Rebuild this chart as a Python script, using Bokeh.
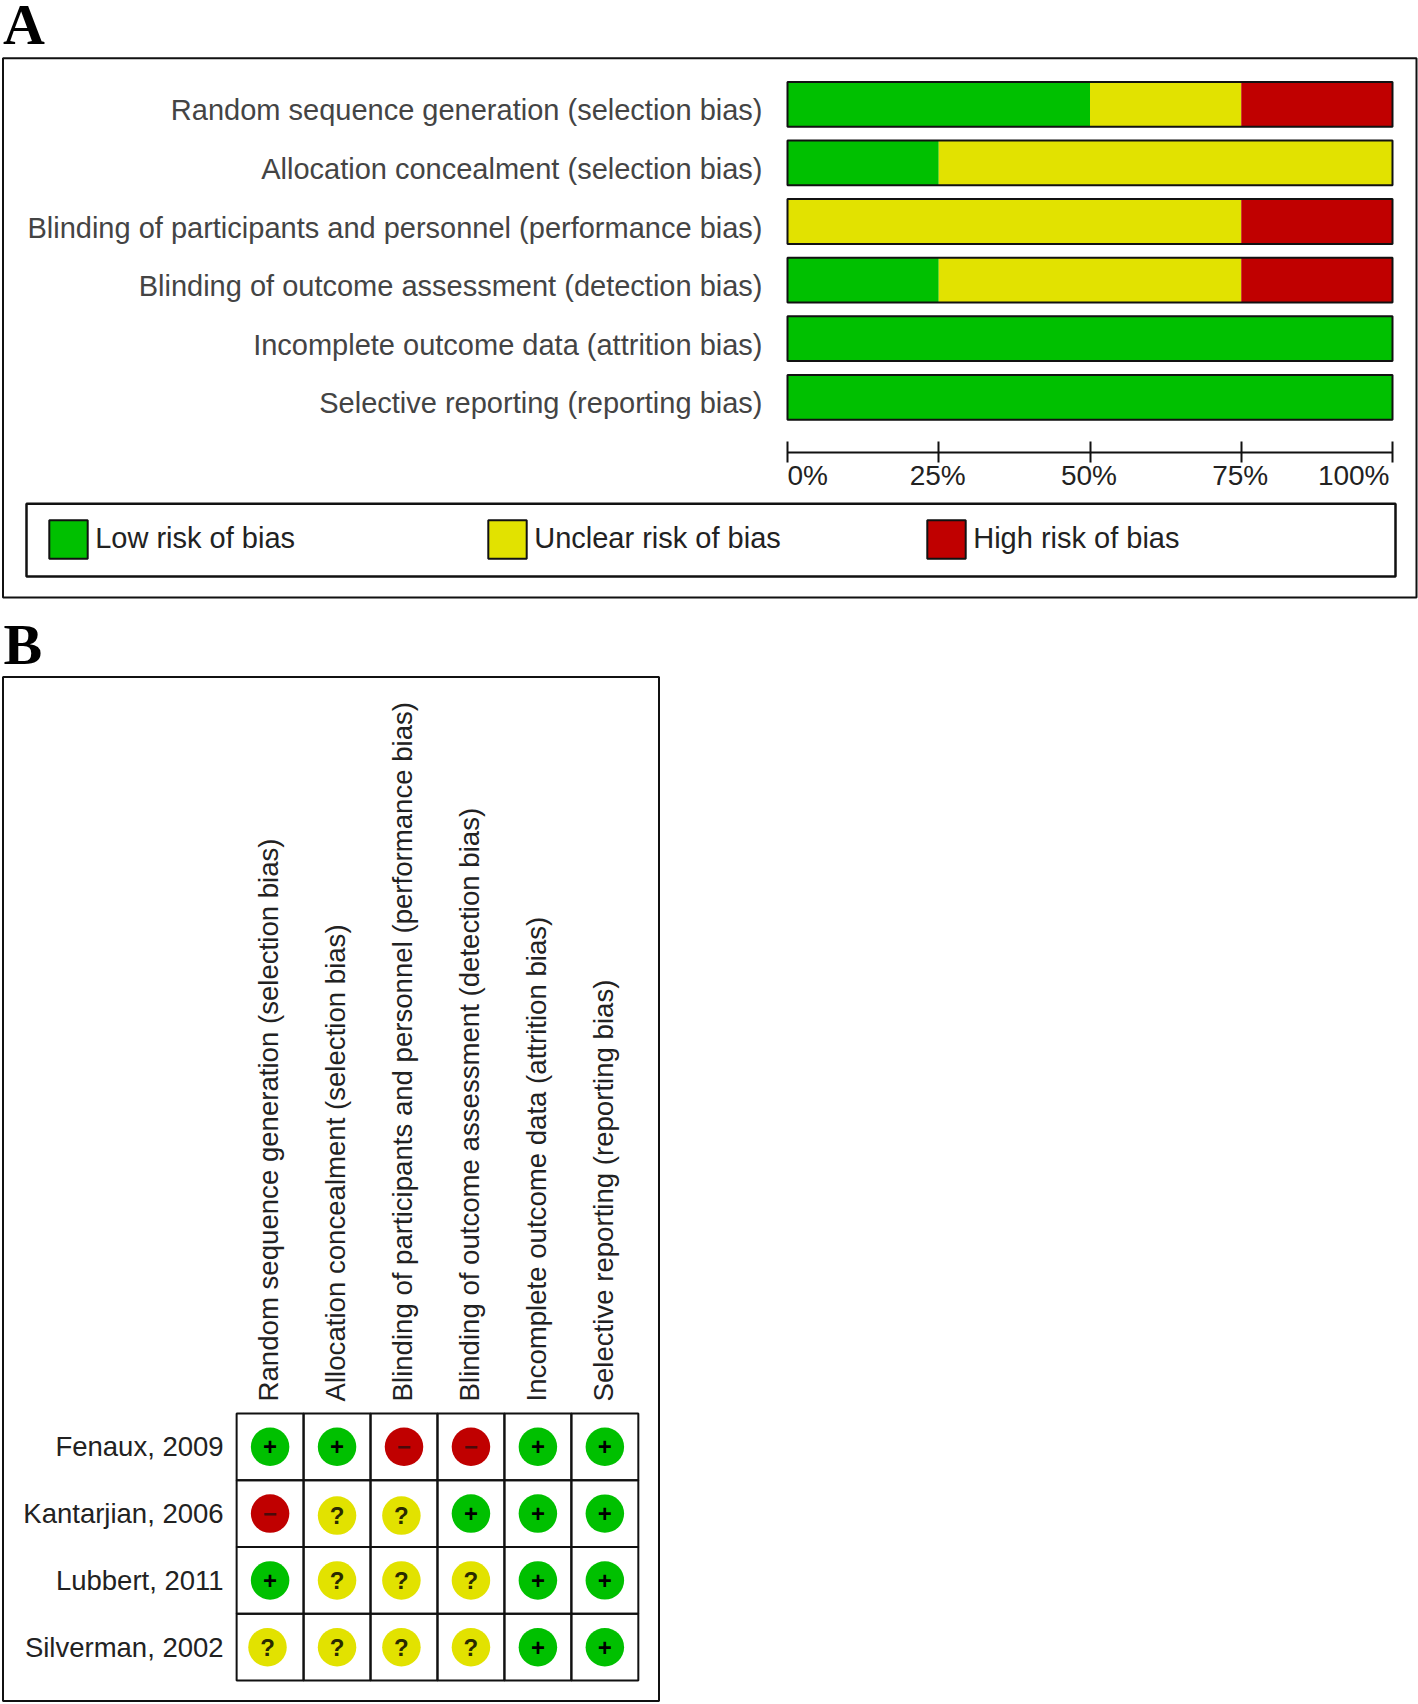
from bokeh.plotting import figure
from bokeh.embed import file_html
from bokeh.resources import INLINE
from bokeh.models import Range1d, LinearAxis, FixedTicker, BoxAnnotation, Legend, LegendItem
from bokeh.core.properties import value
import math

# ---- data ----
domains = [
    "Random sequence generation (selection bias)",
    "Allocation concealment (selection bias)",
    "Blinding of participants and personnel (performance bias)",
    "Blinding of outcome assessment (detection bias)",
    "Incomplete outcome data (attrition bias)",
    "Selective reporting (reporting bias)",
]
low_pct = [50, 25, 0, 25, 100, 100]
unclear_pct = [25, 75, 75, 50, 0, 0]
high_pct = [25, 0, 25, 25, 0, 0]
pct_ticks = [0, 25, 50, 75, 100]
legend_labels = ["Low risk of bias", "Unclear risk of bias", "High risk of bias"]
studies = ["Fenaux, 2009", "Kantarjian, 2006", "Lubbert, 2011", "Silverman, 2002"]
judgements = [
    ["+", "+", "-", "-", "+", "+"],
    ["-", "?", "?", "+", "+", "+"],
    ["+", "?", "?", "?", "+", "+"],
    ["?", "?", "?", "?", "+", "+"],
]

# ---- style ----
GREEN, YELLOW, RED = "#00C000", "#E2E200", "#C00000"
FILL = {"+": GREEN, "?": YELLOW, "-": RED}
SYMBOL = {"+": "+", "?": "?", "-": "\u2212"}
SYMBOL_COLOR = {"+": "#000000", "?": "#2a2a00", "-": "#4a0a0a"}
INK = "#111111"
FONT = "Liberation Sans"
W, H = 1418, 1704
COL_PX, ROW_PX = 66.95, 66.8
COL0, ROW0 = 269.6, 1446.3


def mapped(origin_px, px_per_unit, extent):
    """Range whose unit 0 sits at origin_px, px_per_unit pixels per unit, over a page extent."""
    return (0 - origin_px) / px_per_unit, (extent - origin_px) / px_per_unit


p = figure(width=W, height=H, x_range=Range1d(0, W), y_range=Range1d(H, 0),
           x_axis_type=None, y_axis_type=None, toolbar_location=None,
           output_backend="svg", min_border=0, outline_line_color=None)

a, b = mapped(787, 6.05, W)
p.extra_x_ranges["pct"] = Range1d(a, b)
a, b = mapped(103.8, 58.6, H)
p.extra_y_ranges["rows_a"] = Range1d(b, a)
a, b = mapped(103.8 + 6, 58.6, H)
p.extra_y_ranges["rows_a_labels"] = Range1d(b, a)
a, b = mapped(COL0, COL_PX, W)
p.extra_x_ranges["cols_b"] = Range1d(a, b)
a, b = mapped(COL0 - 1.6, COL_PX, W)
p.extra_x_ranges["cols_b_labels"] = Range1d(a, b)
a, b = mapped(ROW0, ROW_PX, H)
p.extra_y_ranges["rows_b"] = Range1d(b, a)

# panel frames
for l, r, t, bt, lw in [(2.5, 1416, 57.7, 597, 2), (2.5, 658.5, 676.5, 1700.5, 2), (26, 1395, 503.3, 576, 2.5)]:
    p.add_layout(BoxAnnotation(left=l, right=r, top=t, bottom=bt, fill_alpha=0,
                               line_color=INK, line_alpha=1, line_width=lw))

# panel letters
p.text(x=[2.5, 3], y=[23.5, 644], text=["A", "B"], text_font=value("Liberation Serif"),
       text_font_style="bold", text_font_size="58px", text_color="#000000",
       text_align="left", text_baseline="middle")

# stacked bars A
rows = list(range(len(domains)))
lefts = [0] * len(rows)
for vals, col in zip([low_pct, unclear_pct, high_pct], [GREEN, YELLOW, RED]):
    rights = [l + v for l, v in zip(lefts, vals)]
    p.hbar(y=rows, left=lefts, right=rights, height=0.765, fill_color=col, line_color=None,
           x_range_name="pct", y_range_name="rows_a")
    lefts = rights
p.hbar(y=rows, left=[0] * len(rows), right=lefts, height=0.765, fill_color=None,
       line_color=INK, line_width=2, x_range_name="pct", y_range_name="rows_a")

# category axis A
ax = LinearAxis(x_range_name="pct", y_range_name="rows_a_labels", fixed_location=0,
                ticker=FixedTicker(ticks=rows),
                major_label_overrides={i: d for i, d in enumerate(domains)},
                axis_line_color=None, major_tick_line_color=None, minor_tick_line_color=None,
                major_tick_in=0, major_tick_out=0, major_label_standoff=25,
                major_label_text_font=FONT, major_label_text_font_size="29px",
                major_label_text_color="#444444")
p.add_layout(ax, "left")

# percent axis A: ticks from the axis, labels placed so the end ones stay inside the bar span
xa = LinearAxis(x_range_name="pct", fixed_location=451.7, bounds=(0, 100),
                ticker=FixedTicker(ticks=pct_ticks),
                major_label_overrides={t: "" for t in pct_ticks},
                axis_line_color=INK, axis_line_width=2,
                major_tick_line_color=INK, major_tick_line_width=2,
                minor_tick_line_color=None, major_tick_in=11, major_tick_out=10,
                major_label_standoff=2)
p.add_layout(xa, "below")
p.text(x=pct_ticks, y=[475] * len(pct_ticks), text=[f"{t}%" for t in pct_ticks],
       text_align=["left", "center", "center", "center", "right"], text_baseline="middle",
       x_offset=[0, -1, -1, -1, -3],
       text_font=value(FONT), text_font_size="28px", text_color="#222222", x_range_name="pct")

# legend
for i, (lab, col) in enumerate(zip(legend_labels, [GREEN, YELLOW, RED])):
    r = p.hbar(y=[0], left=[0], right=[0], height=0.5, fill_color=col, line_color=INK,
               line_width=2, visible=False, x_range_name="pct", y_range_name="rows_a")
    lg = Legend(items=[LegendItem(label=lab, renderers=[r])],
                location=(44.2 + i * 439, 1141.5), orientation="horizontal",
                glyph_width=48, glyph_height=48, label_standoff=3, margin=0, padding=0,
                spacing=0, border_line_color=None, background_fill_alpha=0,
                label_text_font=FONT, label_text_font_size="29px", label_text_color="#222222",
                label_height=48)
    p.add_layout(lg, "center")

# panel B grid
cols = list(range(len(domains)))
gx, gy, cx, cy, cf, ct, cc = [], [], [], [], [], [], []
for ri, row in enumerate(judgements):
    for ci, j in enumerate(row):
        gx.append(ci)
        gy.append(ri)
        # the reference's yellow dots sit a little off their cell centres
        nudge_x = -2.6 / COL_PX if j == "?" and (ci == 2 or (ri == 3 and ci == 0)) else 0
        nudge_y = 2 / ROW_PX if j == "?" and ri == 1 else 0
        cx.append(ci + nudge_x)
        cy.append(ri + nudge_y)
        cf.append(FILL[j])
        ct.append(SYMBOL[j])
        cc.append(SYMBOL_COLOR[j])
p.rect(x=gx, y=gy, width=1, height=1, fill_color=None, line_color=INK, line_width=2,
       x_range_name="cols_b", y_range_name="rows_b")
p.scatter(x=cx, y=cy, size=38.5, marker="circle", fill_color=cf, line_color=None,
          x_range_name="cols_b", y_range_name="rows_b")
p.text(x=cx, y=cy, text=ct, text_color=cc, text_font=value(FONT), text_font_style="bold",
       text_font_size="24px", text_align="center", text_baseline="middle",
       x_range_name="cols_b", y_range_name="rows_b")

# study axis
sa = LinearAxis(x_range_name="cols_b", y_range_name="rows_b", fixed_location=-0.5,
                ticker=FixedTicker(ticks=list(range(len(studies)))),
                major_label_overrides={i: s for i, s in enumerate(studies)},
                axis_line_color=None, major_tick_line_color=None, minor_tick_line_color=None,
                major_tick_in=0, major_tick_out=0, major_label_standoff=13,
                major_label_text_font=FONT, major_label_text_font_size="27.5px",
                major_label_text_color="#222222")
p.add_layout(sa, "left")

# domain axis B
da = LinearAxis(x_range_name="cols_b_labels", y_range_name="rows_b", fixed_location=-0.5,
                ticker=FixedTicker(ticks=cols),
                major_label_overrides={i: d for i, d in enumerate(domains)},
                major_label_orientation=math.pi / 2,
                axis_line_color=None, major_tick_line_color=None, minor_tick_line_color=None,
                major_tick_in=0, major_tick_out=0, major_label_standoff=12,
                major_label_text_font=FONT, major_label_text_font_size="27.6px",
                major_label_text_color="#222222")
p.add_layout(da, "above")

open("out.html", "w").write(file_html(p, INLINE))
